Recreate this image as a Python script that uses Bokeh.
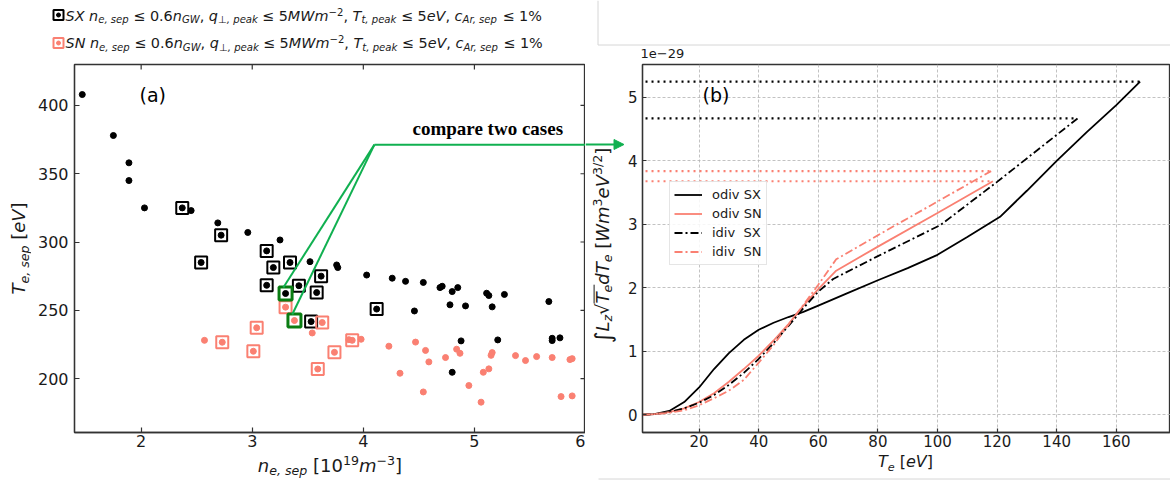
import math

from bokeh.embed import file_html
from bokeh.layouts import column, row
from bokeh.models import Arrow, FixedTicker, Label, Legend, LegendItem, NormalHead, Range1d
from bokeh.plotting import figure
from bokeh.resources import INLINE

# ---------------- panel (a): separatrix density vs. separatrix temperature ----------------
sx_ne = [1.47, 1.75, 1.89, 1.89, 2.03, 2.37, 2.45, 2.69, 2.72, 2.96, 3.25, 2.54, 3.13, 3.19,
         3.34, 3.52, 3.76, 3.77, 3.62, 3.13, 3.42, 3.58, 3.30, 4.03, 4.26, 4.38, 4.54, 4.69,
         4.71, 4.80, 4.85, 5.11, 5.13, 5.27, 4.12, 4.46, 4.78, 4.92, 5.16, 5.67, 3.53, 4.88,
         5.21, 5.70, 5.70, 5.77, 4.80]
sx_te = [408, 378, 358, 345, 325, 325, 323, 314, 305, 307, 301.5, 285, 293.5, 281.3,
         285, 285.6, 283.2, 281.3, 275, 268.3, 268, 263, 262.3, 275.8, 273.5, 271.2, 270.4, 266.6,
         267.6, 263.7, 266.6, 262.5, 260.8, 261.6, 250.9, 249.5, 254, 253.2, 252.5, 256.4, 241.7, 227.6,
         228.3, 229.5, 227.8, 229.8, 204.6]

sn_ne = [2.57, 2.73, 3.01, 3.04, 3.30, 3.38, 3.54, 3.63, 3.59, 3.74, 3.87, 3.90, 3.98, 4.23,
         4.33, 4.47, 4.54, 4.56, 4.59, 4.74, 4.84, 4.87, 4.95, 5.06, 5.08, 5.13, 5.15, 5.16,
         5.37, 5.46, 5.56, 5.70, 5.78, 5.86, 5.88, 5.88]
sn_te = [228, 226.6, 220, 237.2, 252.3, 242.5, 233.4, 241, 207, 219.2, 228.5, 228, 228.8, 223.7,
         203.9, 226.7, 190.2, 220.6, 212.2, 215.4, 221.5, 218.5, 194.9, 182.7, 204.6, 207.1, 217, 219,
         216.8, 213.2, 216.1, 215.4, 186.8, 213.9, 214.6, 187.3]

# cases meeting all the operational limits (boxed)
sx_ok_ne = [2.37, 2.72, 2.54, 3.13, 3.19, 3.34, 3.62, 3.13, 3.42, 3.58, 4.12, 3.53]
sx_ok_te = [325, 305, 285, 293.5, 281.3, 285, 275, 268.3, 268, 263, 250.9, 241.7]
sn_ok_ne = [2.73, 3.01, 3.04, 3.30, 3.63, 3.59, 3.74, 3.90]
sn_ok_te = [226.6, 220, 237.2, 252.3, 241, 207, 219.2, 228]

# the two cases compared in panel (b): SX first, SN second
sel_ne = [3.30, 3.38]
sel_te = [262.3, 242.5]

ne_ticks = [2, 3, 4, 5, 6]
te_ticks = [200, 250, 300, 350, 400]
ne_range = (1.4, 6.0)
te_range = (160.5, 430.0)

# ---------------- panel (b): cooling integral vs. electron temperature ----------------
odiv_sx_t = [1, 5, 10, 15, 20, 25, 30, 35, 40, 45, 50, 55, 60, 70, 80, 90, 100, 110, 121,
             130, 140, 150, 160, 168]
odiv_sx_v = [0, 0.01, 0.06, 0.2, 0.43, 0.72, 0.97, 1.18, 1.34, 1.45, 1.54, 1.62, 1.72, 1.92,
             2.12, 2.31, 2.52, 2.8, 3.12, 3.53, 4.0, 4.45, 4.88, 5.25]
odiv_sn_t = [1, 5, 10, 15, 20, 25, 30, 35, 40, 45, 50, 55, 60, 66, 80, 100, 118.6]
odiv_sn_v = [0, 0.01, 0.04, 0.1, 0.2, 0.34, 0.52, 0.72, 0.93, 1.17, 1.43, 1.72, 1.98, 2.27,
             2.65, 3.18, 3.68]
idiv_sx_t = [1, 5, 10, 15, 20, 25, 30, 35, 40, 45, 50, 55, 60, 65, 80, 101, 120, 147]
idiv_sx_v = [0, 0.01, 0.04, 0.1, 0.19, 0.31, 0.47, 0.66, 0.88, 1.13, 1.4, 1.68, 1.94, 2.14,
             2.5, 2.99, 3.67, 4.67]
idiv_sn_t = [1, 5, 10, 15, 20, 25, 30, 35, 40, 45, 50, 55, 60, 66, 80, 100, 118]
idiv_sn_v = [0, 0.01, 0.03, 0.07, 0.15, 0.26, 0.38, 0.55, 0.82, 1.1, 1.42, 1.73, 2.05, 2.45,
             2.83, 3.36, 3.84]
scale_label = "1e\u221229"   # the integrals above are in units of 1e-29

t_ticks = [20, 40, 60, 80, 100, 120, 140, 160]
v_ticks = [0, 1, 2, 3, 4, 5]
t_range = (1.0, 178.2)
v_range = (-0.28, 5.52)

# ---------------- styling ----------------
FONT = "DejaVu Sans"
SALMON = "#fa8072"
GREEN_LINE = "#10b050"
GREEN_BOX = "#0a7d12"
FRAME = "#333333"
PAGE_EDGE = "#d6d6d6"
TEXT = "#1a1a1a"

# advance widths (fraction of an em) for DejaVu Sans, used to lay out mixed-size labels
EM = {" ": .318, ",": .318, ".": .318, "%": .950, "(": .390, ")": .390, "[": .390, "]": .390,
      "/": .337, "\u2212": .838, "\u2264": .838, "\u22a5": .838, "\u222b": .521, "\u221a": .636,
      "A": .684, "G": .775, "L": .557, "M": .863, "N": .748, "S": .635, "T": .611, "V": .684,
      "W": .989, "X": .685, "a": .613, "b": .635, "c": .550, "d": .635, "e": .615, "i": .278,
      "k": .579, "m": .974, "n": .634, "o": .612, "p": .635, "q": .635, "r": .411, "s": .521,
      "t": .392, "v": .592, "z": .525}
for _d in "0123456789":
    EM[_d] = .636
# labels are anchored on the middle of the font box: baseline sits this many em below it
BASELINE_DROP = 0.346

# run kind -> (size factor, baseline rise in em of the base size, font style)
KINDS = {"n": (1.0, 0.0, "normal"), "i": (1.0, 0.0, "italic"),
         "sub": (0.7, -0.2, "italic"), "subn": (0.7, -0.2, "normal"),
         "sup": (0.7, 0.38, "normal"), "big": (1.25, -0.12, "normal")}


def em_width(text):
    return sum(EM.get(ch, 0.6) for ch in text)


def rich_text(fig, runs, x, y, size, angle=0.0, align="left", color=TEXT, font=FONT):
    """Place a label built from normal/italic/sub/superscript runs; (x, y) is the baseline
    start (or centre) in frame screen units.  Returns each run's (start, end) advance."""
    placed, spans, total = [], [], 0.0
    for text, kind in runs:
        factor, rise, style = KINDS[kind]
        fs = size * factor
        lead = len(text) - len(text.lstrip(" "))
        w = em_width(text) * fs
        placed.append((text.strip(" "), fs, rise * size + BASELINE_DROP * fs, style,
                       total + lead * EM[" "] * fs))
        spans.append((total, total + w))
        total += w
    start = -total / 2 if align == "center" else 0.0
    c, s = math.cos(angle), math.sin(angle)
    for text, fs, rise, style, adv in placed:
        if not text:
            continue
        a = start + adv
        fig.add_layout(Label(x=x + a * c - rise * s, y=y + a * s + rise * c,
                             x_units="screen", y_units="screen", angle=angle, text=text,
                             text_font=font, text_font_size=f"{fs:.1f}px",
                             text_font_style=style, text_color=color,
                             text_align="left", text_baseline="alphabetic"))
    return [(start + a, start + b) for a, b in spans]


def style_axis(ax, size, standoff, tick=5):
    ax.major_tick_in = tick
    ax.major_tick_out = 0
    ax.minor_tick_in = 0
    ax.minor_tick_out = 0
    ax.major_tick_line_color = FRAME
    ax.major_tick_line_width = 1.2
    ax.axis_line_color = FRAME
    ax.axis_line_width = 1.3
    ax.major_label_text_font = FONT
    ax.major_label_text_font_size = f"{size}px"
    ax.major_label_text_color = TEXT
    ax.major_label_standoff = standoff
    ax.axis_label_standoff = 0


def strip(width, height, top=0, bottom=0):
    """A frame-only canvas (pixel coordinates) for titles and pointers around the panels."""
    f = figure(width=width, height=height, x_range=Range1d(0, width),
               y_range=Range1d(0, height - top - bottom),
               x_axis_type=None, y_axis_type=None, output_backend="svg", toolbar_location=None,
               min_border_left=0, min_border_right=0, min_border_top=top,
               min_border_bottom=bottom)
    f.outline_line_color = None
    f.background_fill_color = "white"
    f.border_fill_color = "white"
    return f


# ================= panel (a) =================
# frame: x 74..585, y 64..432 of the page
PA_W, PA_H = 511, 368
pa = figure(width=554, height=396, x_range=Range1d(*ne_range), y_range=Range1d(*te_range),
            output_backend="svg", toolbar_location=None,
            min_border_left=43, min_border_right=0, min_border_top=6, min_border_bottom=22)
pa.grid.visible = False
pa.outline_line_color = FRAME
pa.outline_line_width = 1.3
pa.background_fill_color = "white"
pa.border_fill_color = "white"
pa.xaxis.ticker = FixedTicker(ticks=ne_ticks)
pa.yaxis.ticker = FixedTicker(ticks=te_ticks)
style_axis(pa.xaxis[0], 16, 2)
style_axis(pa.yaxis[0], 16, 6)

# inward ticks mirrored on the top and right spines
te_per_px = (te_range[1] - te_range[0]) / PA_H
ne_per_px = (ne_range[1] - ne_range[0]) / PA_W
pa.segment(x0=ne_ticks, y0=[te_range[1]] * len(ne_ticks), x1=ne_ticks,
           y1=[te_range[1] - 5 * te_per_px] * len(ne_ticks), line_color=FRAME, line_width=1.2)
pa.segment(x0=[ne_range[1]] * len(te_ticks), y0=te_ticks,
           x1=[ne_range[1] - 5 * ne_per_px] * len(te_ticks), y1=te_ticks,
           line_color=FRAME, line_width=1.2)

pa.scatter(sx_ok_ne, sx_ok_te, marker="square", size=12, fill_color=None,
           line_color="black", line_width=2)
pa.scatter(sn_ok_ne, sn_ok_te, marker="square", size=12, fill_color=None,
           line_color=SALMON, line_width=2)
pa.scatter(sel_ne, sel_te, marker="square", size=13, fill_color=None,
           line_color=GREEN_BOX, line_width=3)
pa.scatter(sx_ne, sx_te, size=6, color="black")
pa.scatter(sn_ne, sn_te, size=6, color=SALMON)

# pointer from the two selected cases towards panel (b)
apex_ne, apex_te = 4.10, 371.3
pa.segment(x0=[apex_ne] * len(sel_ne), y0=[apex_te] * len(sel_te),
           x1=[v - 0.02 for v in sel_ne], y1=[v + 6 * te_per_px for v in sel_te],
           line_color=GREEN_LINE, line_width=2)
pa.segment(x0=[apex_ne], y0=[apex_te], x1=[ne_range[1]], y1=[apex_te],
           line_color=GREEN_LINE, line_width=2)
pa.add_layout(Label(x=338, y=294, x_units="screen", y_units="screen", text="compare two cases",
                    text_font="Liberation Serif", text_font_style="bold",
                    text_font_size="19px", text_color="black"))
pa.add_layout(Label(x=65, y=327, x_units="screen", y_units="screen", text="(a)",
                    text_font=FONT, text_font_size="19px", text_color="black"))

# legend of the operational limits, above panel (a)
legend_a = strip(585, 58)


def limits(tag):
    return [(tag, "i"), (" ", "n"), ("n", "i"), ("e, sep", "sub"), (" \u2264 0.6", "n"),
            ("n", "i"), ("GW", "sub"), (", ", "n"), ("q", "i"), ("\u22a5, peak", "sub"),
            (" \u2264 5", "n"), ("MWm", "i"), ("\u22122", "sup"), (", ", "n"), ("T", "i"),
            ("t, peak", "sub"), (" \u2264 5", "n"), ("eV", "i"), (", ", "n"), ("c", "i"),
            ("Ar, sep", "sub"), (" \u2264 1%", "n")]


for tag, color, cy, base in (("SX", "black", 14.5, 20), ("SN", SALMON, 42.5, 47.5)):
    legend_a.scatter([58], [58 - cy], marker="square", size=10, fill_color="white",
                     line_color=color, line_width=2)
    legend_a.scatter([58], [58 - cy], size=4, color=color)
    rich_text(legend_a, limits(tag), 65, 58 - base, 14.4)

# axis titles of panel (a); the side strip shares the frame rows of panel (a)
ytitle_a = strip(31, 396, top=6, bottom=22)
rich_text(ytitle_a, [("T", "i"), ("e, sep", "sub"), (" [", "n"), ("eV", "i"), ("]", "n")],
          24.5, 432 - 248, 18, angle=math.pi / 2, align="center")
xtitle_a = strip(585, 29)   # page rows 454..483
rich_text(xtitle_a, [("n", "i"), ("e, sep", "sub"), (" [10", "n"), ("19", "sup"), ("m", "i"),
                     ("\u22123", "sup"), ("]", "n")], 329.5, 483 - 471, 18, align="center")

# ================= panel (b) =================
# frame: x 640..1170, y 64..432 of the page
pb = figure(width=546, height=389, x_range=Range1d(*t_range), y_range=Range1d(*v_range),
            output_backend="svg", toolbar_location=None,
            min_border_left=16, min_border_right=0, min_border_top=1, min_border_bottom=20)
pb.outline_line_color = FRAME
pb.outline_line_width = 1.3
pb.background_fill_color = "white"
pb.border_fill_color = "white"
pb.xaxis.ticker = FixedTicker(ticks=t_ticks)
pb.yaxis.ticker = FixedTicker(ticks=v_ticks)
style_axis(pb.xaxis[0], 15, 2, tick=4)
style_axis(pb.yaxis[0], 15, 5, tick=4)
for g in (pb.xgrid[0], pb.ygrid[0]):
    g.grid_line_color = "#b3b3b3"
    g.grid_line_dash = "3 2"
    g.grid_line_width = 0.8
pb.xgrid.ticker = FixedTicker(ticks=t_ticks)
pb.ygrid.ticker = FixedTicker(ticks=v_ticks)

series = [("odiv SX", odiv_sx_t, odiv_sx_v, "black", "solid"),
          ("odiv SN", odiv_sn_t, odiv_sn_v, SALMON, "solid"),
          ("idiv  SX", idiv_sx_t, idiv_sx_v, "black", "8 3 2 3"),
          ("idiv  SN", idiv_sn_t, idiv_sn_v, SALMON, "8 3 2 3")]

# maximum of each integral carried back to the axis
pb.segment(x0=[0] * len(series), y0=[s[2][-1] for s in series],
           x1=[s[1][-1] for s in series], y1=[s[2][-1] for s in series],
           line_color=[s[3] for s in series], line_dash="2 4", line_width=2.2)

items = []
for name, t, v, color, dash in series:
    r = pb.line(t, v, line_color=color, line_dash=dash, line_width=1.8)
    items.append(LegendItem(label=name, renderers=[r]))

legend = Legend(items=items, location=(27, 167), orientation="vertical",
                label_text_font=FONT, label_text_font_size="13px", label_text_color=TEXT,
                glyph_width=28, glyph_height=17, label_height=17, spacing=2, padding=4,
                label_standoff=10, border_line_color="#cccccc", border_line_width=1,
                background_fill_alpha=0.85)
pb.add_layout(legend)
pb.add_layout(Label(x=60, y=327, x_units="screen", y_units="screen", text="(b)",
                    text_font=FONT, text_font_size="19px", text_color="black"))

# strip between the panels (x 585..624, frame rows of panel (b)): pointer head and y title
gap = strip(39, 389, top=1, bottom=20)
gap.add_layout(Arrow(end=NormalHead(size=10, fill_color=GREEN_LINE, line_color=GREEN_LINE),
                     x_start=0, y_start=432 - 144, x_end=38.5, y_end=432 - 144,
                     line_color=GREEN_LINE, line_width=2))
runs_b = [("\u222b", "big"), ("L", "i"), ("z", "sub"), ("\u221a", "n"), ("T", "i"),
          ("e", "sub"), ("d", "i"), ("T", "i"), ("e", "sub"), (" [", "n"), ("Wm", "i"),
          ("3", "sup"), ("eV", "i"), ("3/2", "sup"), ("]", "n")]
YB_X, YB_Y = 23, 432 - 245
spans = rich_text(gap, runs_b, YB_X, YB_Y, 18, angle=math.pi / 2, align="center")
# bar of the square root over T_e
gap.segment(x0=[YB_X - 0.8 * 18], y0=[YB_Y + spans[4][0]], x1=[YB_X - 0.8 * 18],
            y1=[YB_Y + spans[5][1]], line_color=TEXT, line_width=1)

# strip above panel (b) (x 585..1170, y 0..63): scale offset and the inset page edge
top_b = strip(585, 63)
top_b.segment(x0=[12.5, 12.5], y0=[63, 18.5], x1=[12.5, 585], y1=[18.5, 18.5],
              line_color=PAGE_EDGE, line_width=1)
rich_text(top_b, [(scale_label, "n")], 55, 6, 13)

# strip below panel (b) (x 585..1170, y 452..483): x title and the inset page edge
bot_b = strip(585, 31)
bot_b.segment(x0=[13], y0=[4.5], x1=[585], y1=[4.5], line_color=PAGE_EDGE, line_width=1)
rich_text(bot_b, [("T", "i"), ("e", "sub"), (" [", "n"), ("eV", "i"), ("]", "n")],
          320, 483 - 467, 16, align="center")

layout = row(column(legend_a, row(ytitle_a, pa), xtitle_a),
             column(top_b, row(gap, pb), bot_b))
open("out.html", "w").write(file_html(layout, INLINE))
